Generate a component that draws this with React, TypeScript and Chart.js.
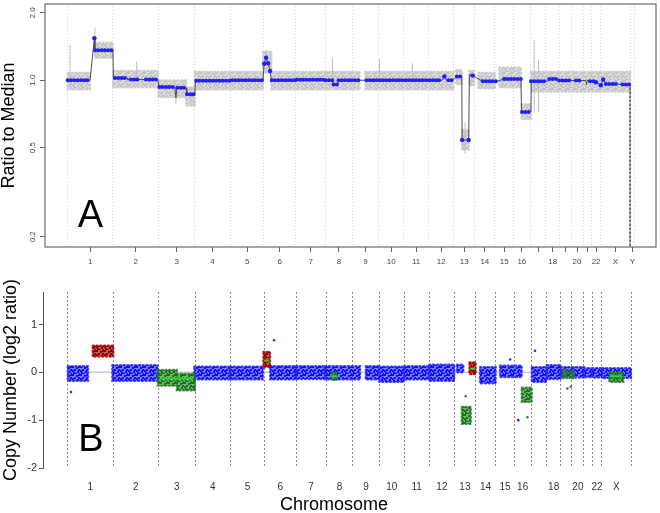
import React, { useEffect, useRef } from 'react';
import { Chart, registerables } from 'chart.js';

Chart.register(...registerables);

const FONT = '"Liberation Sans", Arial, Helvetica, sans-serif';

// ---------- genome layout ----------
const CHROMOSOMES = ['1','2','3','4','5','6','7','8','9','10','11','12','13','14','15','16','17','18','19','20','21','22','X','Y'];
const CHROM_LENGTH_MB = [249, 251, 200, 196, 185, 175, 165, 147, 146, 136, 139, 138, 115, 112, 102, 92, 86, 77, 62, 66, 46, 52, 161, 25];
const TICK_LABELS_A = ['1','2','3','4','5','6','7','8','9','10','11','12','13','14','15','16','','18','','20','','22','X','Y'];
const TICK_LABELS_B = ['1','2','3','4','5','6','7','8','9','10','11','12','13','14','15','16','','18','','20','','22','X',''];
const Y_TICKS_A = [0.2, 0.5, 1.0, 2.0];
const Y_TICKS_B = [-2, -1, 0, 1];
const X_RANGE_A = [-125, 3241];
const X_RANGE_B = [-136, 3241];
const Y_RANGE_A = [0.18, 2.19];
const Y_RANGE_B = [-2, 1.68];

// ---------- Panel A: ratio to median (genome position Mb, ratio) ----------
const SEGMENT_PATH_A: [number, number][] = [
  [0, 1.0], [123, 1.0], [147, 1.54], [150, 1.36], [249, 1.36],
  [252, 1.024], [328, 1.024], [331, 1.007], [497, 1.007],
  [503, 0.934], [590, 0.934], [596, 0.835], [602, 0.925], [652, 0.925], [656, 0.865], [700, 0.865],
  [704, 0.995], [904, 0.995], [906, 1.0], [1076, 1.0],
  [1082, 1.185], [1093, 1.26], [1104, 1.19], [1115, 1.10], [1122, 1.0], [1256, 1.0],
  [1261, 1.005], [1421, 1.005], [1424, 1.0], [1460, 1.0], [1464, 0.957], [1487, 0.957], [1491, 1.0], [1608, 1.0],
  [1646, 1.0], [2064, 1.0], [2075, 1.04], [2086, 1.0], [2119, 1.0],
  [2144, 1.04], [2171, 1.04], [2173, 0.541], [2209, 0.541], [2213, 1.06], [2231, 1.049],
  [2286, 0.99], [2367, 0.99], [2405, 1.013], [2497, 1.013], [2500, 0.722], [2552, 0.722],
  [2554, 0.99], [2643, 0.99], [2653, 1.013], [2697, 1.013], [2708, 0.997], [2834, 0.997],
  [2855, 0.997], [2858, 0.957], [2862, 0.997], [2877, 1.0], [2897, 0.99], [2910, 0.98],
  [2937, 0.95], [2950, 1.007], [2965, 0.963], [3020, 0.963], [3056, 0.957], [3098, 0.957], [3098, 0.03],
];
const BLUE_RUNS_A: [number, number, number][] = [
  [0, 123, 1.0], [150, 249, 1.36], [260, 321, 1.024], [348, 387, 1.007], [431, 497, 1.007],
  [505, 579, 0.934], [604, 652, 0.925], [657, 700, 0.865], [708, 904, 0.995], [906, 1074, 1.0],
  [1124, 1256, 1.0], [1261, 1421, 1.005], [1421, 1459, 1.0], [1465, 1487, 0.957], [1492, 1608, 1.0],
  [1646, 1707, 1.0], [1718, 2064, 1.0], [2097, 2119, 1.0], [2144, 2171, 1.04],
  [2286, 2367, 0.99], [2405, 2497, 1.013], [2503, 2552, 0.722], [2552, 2643, 0.99],
  [2653, 2697, 1.013], [2708, 2772, 0.997], [2800, 2834, 0.997], [2877, 2897, 0.99],
  [2965, 3020, 0.963], [3056, 3097, 0.957],
];
const BLUE_POINTS_A: [number, number][] = [
  [147, 1.54], [1082, 1.185], [1093, 1.26], [1104, 1.19], [1115, 1.10], [2075, 1.04],
  [2173, 0.541], [2209, 0.541], [2231, 1.049], [2937, 0.95], [2950, 1.007], [2910, 0.98],
];
// [start, end, low, high]
const GRAY_CLOUD_A: [number, number, number, number][] = [
  [0, 123, 0.91, 1.08], [150, 249, 1.26, 1.47], [249, 497, 0.93, 1.10],
  [500, 652, 0.84, 1.0], [652, 700, 0.77, 0.93], [700, 1076, 0.91, 1.09],
  [1076, 1122, 1.08, 1.34], [1122, 1421, 0.91, 1.09], [1421, 1608, 0.91, 1.09],
  [1640, 2126, 0.91, 1.09], [2140, 2172, 0.96, 1.11], [2172, 2210, 0.49, 0.60],
  [2213, 2240, 0.95, 1.10], [2262, 2354, 0.92, 1.08], [2378, 2497, 0.93, 1.14],
  [2500, 2552, 0.67, 0.78], [2552, 3098, 0.89, 1.09],
];
// [position, low, high]
const GRAY_WHISKERS_A: [number, number, number][] = [
  [13, 0.93, 1.44], [150, 1.3, 1.72], [380, 1.0, 1.21], [596, 0.78, 0.95], [1093, 1.2, 1.37],
  [1459, 1.0, 1.26], [1718, 1.0, 1.25], [1899, 1.0, 1.19], [2189, 0.47, 0.647],
  [2570, 0.72, 1.51], [2594, 0.72, 1.23],
];

// ---------- Panel B: copy number log2 ratio ----------
const BLUE_CLOUD_B: [number, number, number, number][] = [
  [0, 112, -0.18, 0.13], [245, 495, -0.18, 0.15], [696, 893, -0.15, 0.12], [893, 1074, -0.15, 0.12],
  [1113, 1256, -0.15, 0.13], [1256, 1415, -0.14, 0.13], [1415, 1608, -0.15, 0.13],
  [1639, 1714, -0.15, 0.13], [1714, 1850, -0.2, 0.12], [1850, 1988, -0.15, 0.13],
  [1988, 2126, -0.18, 0.16], [2140, 2176, 0.0, 0.16], [2267, 2354, -0.23, 0.11],
  [2378, 2497, -0.1, 0.14], [2552, 2634, -0.2, 0.11], [2634, 2711, -0.14, 0.15],
  [2711, 2774, -0.1, 0.11], [2774, 2840, -0.11, 0.11], [2840, 2885, -0.1, 0.09],
  [2885, 2940, -0.11, 0.09], [2940, 3098, -0.12, 0.09],
];
const RED_CLOUD_B: [number, number, number, number][] = [
  [137, 251, 0.33, 0.56], [1076, 1113, 0.11, 0.43], [2209, 2244, -0.04, 0.21],
];
const GREEN_CLOUD_B: [number, number, number, number][] = [
  [495, 600, -0.28, 0.05], [600, 700, -0.38, -0.03], [1452, 1480, -0.16, 0.0],
  [2167, 2217, -1.08, -0.72], [2497, 2552, -0.62, -0.32], [2722, 2747, -0.12, 0.04],
  [2760, 2783, -0.12, 0.02], [2979, 3056, -0.2, 0.0],
];
const SEGMENT_LINES_B: [number, number, number][] = [
  [508, 690, -0.13], [1081, 1109, 0.25], [1452, 1480, -0.08], [2213, 2241, 0.08], [2983, 3047, -0.08],
];
const BLUE_OUTLIERS_B: [number, number][] = [[18, -0.41], [1135, 0.67], [2433, 0.27], [2478, -1.0], [2570, 0.45]];
const GREEN_OUTLIERS_B: [number, number][] = [[2189, -0.5], [2528, -0.94], [2748, -0.34], [2766, -0.3]];
const ZERO_LINE_B: [number, number, number] = [0, 3098, 0];

// ---------- helpers ----------
const CHROM_START = CHROM_LENGTH_MB.map((_, i) => CHROM_LENGTH_MB.slice(0, i).reduce((a, b) => a + b, 0));
const CHROM_CENTER = CHROM_START.map((s, i) => s + CHROM_LENGTH_MB[i] / 2);
const CHROM_BOUNDS = [...CHROM_START, CHROM_START[CHROM_START.length - 1] + CHROM_LENGTH_MB[CHROM_LENGTH_MB.length - 1]];

type P = { x: number; y: number | null };
const polygons = (bands: [number, number, number, number][]): P[] =>
  bands.flatMap(([x0, x1, lo, hi]) => [
    { x: x0, y: hi }, { x: x1, y: hi }, { x: x1, y: lo }, { x: x0, y: lo }, { x: x0, y: hi }, { x: x0, y: null },
  ]);
const runs = (rs: [number, number, number][]): P[] =>
  rs.flatMap(([x0, x1, v]) => [{ x: x0, y: v }, { x: x1, y: v }, { x: x1, y: null }]);
const whiskers = (ws: [number, number, number][]): P[] =>
  ws.flatMap(([x, lo, hi]) => [{ x, y: lo }, { x, y: hi }, { x, y: null }]);
const pts = (ps: [number, number][]): P[] => ps.map(([x, y]) => ({ x, y }));

const zeroPad = (s: any) => { s.paddingTop = 0; s.paddingBottom = 0; s.paddingLeft = 0; s.paddingRight = 0; };

// speckle texture (style only): fixed dot layout within a small tile
const SPECKLE_TILE = [[0, 0], [4, 1], [2, 3], [6, 3], [1, 6], [5, 5], [3, 7], [7, 7], [0, 4], [6, 0]];
function speckle(base: string, dot: string): CanvasPattern | string {
  const c = document.createElement('canvas');
  c.width = 8; c.height = 8;
  const g = c.getContext('2d');
  if (!g) return base;
  g.fillStyle = base; g.fillRect(0, 0, 8, 8);
  g.fillStyle = dot;
  SPECKLE_TILE.forEach(([x, y]) => g.fillRect(x, y, 2, 2));
  const p = g.createPattern(c, 'repeat');
  return p || base;
}

const panelPlugin = (id: string, letter: string, lx: number, ly: number, frame: boolean) => ({
  id,
  afterDraw(chart: any) {
    const { ctx, chartArea: a } = chart;
    ctx.save();
    if (frame) {
      ctx.strokeStyle = '#6b6b6b';
      ctx.lineWidth = 1.2;
      ctx.strokeRect(a.left, a.top, a.right - a.left, a.bottom - a.top);
    }
    ctx.fillStyle = '#000';
    ctx.font = `38px ${FONT}`;
    ctx.textAlign = 'center';
    ctx.textBaseline = 'alphabetic';
    ctx.fillText(letter, lx, ly);
    ctx.restore();
  },
});

const cloudStyle = (fillPattern: any, edge: string) => ({
  fill: 'shape', backgroundColor: fillPattern, borderColor: edge, borderWidth: 2.2,
  borderDash: [1.2, 2.6], borderCapStyle: 'round', pointRadius: 0,
});

export default function App() {
  const refA = useRef<HTMLCanvasElement>(null);
  const refB = useRef<HTMLCanvasElement>(null);

  useEffect(() => {
    Chart.defaults.font.family = FONT;

    const grayFill = speckle('#dedede', '#c2c2c2');
    const blueFill = speckle('rgba(70,70,255,0.72)', '#1010ff');
    const redFill = speckle('rgba(175,30,30,0.75)', '#8e0000');
    const greenFill = speckle('rgba(60,150,60,0.72)', '#1d6f1d');

    const chartA = new Chart(refA.current as HTMLCanvasElement, {
      type: 'line',
      data: {
        datasets: [
          { data: pts(BLUE_POINTS_A), showLine: false, pointRadius: 2.2, pointBorderWidth: 0, pointBackgroundColor: '#1f1fff' },
          { data: runs(BLUE_RUNS_A), borderColor: '#1f1fff', borderWidth: 4, borderDash: [0.01, 3.3], borderCapStyle: 'round', pointRadius: 0 },
          {
            data: pts(SEGMENT_PATH_A), borderColor: '#4d4d4d', borderWidth: 1, pointRadius: 0,
            segment: { borderDash: (c: any) => (c.p1.parsed.y < Y_RANGE_A[0] ? [2, 2] : undefined) },
          },
          { data: whiskers(GRAY_WHISKERS_A), borderColor: '#bdbdbd', borderWidth: 1, pointRadius: 0 },
          { data: polygons(GRAY_CLOUD_A), ...cloudStyle(grayFill, '#cdcdcd') },
        ] as any,
      },
      options: {
        responsive: false,
        animation: false,
        events: [],
        layout: { padding: { top: 2, right: 3, left: 0, bottom: 0 } },
        plugins: { legend: { display: false }, tooltip: { enabled: false } },
        scales: {
          x: {
            type: 'linear', position: 'bottom', min: X_RANGE_A[0], max: X_RANGE_A[1],
            afterBuildTicks: (s: any) => { s.ticks = CHROM_CENTER.map((v) => ({ value: v })); },
            afterFit: (s: any) => { s.height = 25; zeroPad(s); },
            ticks: {
              autoSkip: false, maxRotation: 0, minRotation: 0, padding: 5, color: '#444',
              font: { size: 8 }, callback: (_v: any, i: number) => TICK_LABELS_A[i],
            },
            grid: { drawOnChartArea: false, drawTicks: true, tickLength: 5, color: '#666' },
            border: { display: false },
          },
          xb: {
            type: 'linear', position: 'top', min: X_RANGE_A[0], max: X_RANGE_A[1],
            afterBuildTicks: (s: any) => { s.ticks = CHROM_BOUNDS.map((v) => ({ value: v })); },
            afterFit: (s: any) => { s.height = 0; zeroPad(s); },
            ticks: { display: false },
            grid: { drawTicks: false, color: '#d6d6d6', lineWidth: 1 },
            border: { display: false, dash: [1, 2] },
          },
          y: {
            type: 'logarithmic', min: Y_RANGE_A[0], max: Y_RANGE_A[1],
            afterBuildTicks: (s: any) => { s.ticks = Y_TICKS_A.map((v) => ({ value: v })); },
            afterFit: (s: any) => { s.width = 45; zeroPad(s); },
            ticks: {
              minRotation: 90, maxRotation: 90, crossAlign: 'center', padding: 2, color: '#444',
              font: { size: 8 }, callback: (v: any) => Number(v).toFixed(1),
            },
            grid: { drawOnChartArea: false, tickLength: 5, color: '#666' },
            border: { display: false },
            title: { display: true, text: 'Ratio to Median', color: '#000', font: { size: 18 }, padding: { top: -2, bottom: 0 } },
          },
        },
      } as any,
      plugins: [panelPlugin('panelA', 'A', 90.5, 227, true)],
    });

    const chartB = new Chart(refB.current as HTMLCanvasElement, {
      type: 'line',
      data: {
        datasets: [
          { data: runs(SEGMENT_LINES_B), borderColor: '#22e022', borderWidth: 2, pointRadius: 0 },
          { data: pts(BLUE_OUTLIERS_B), showLine: false, pointRadius: 1.3, pointBorderWidth: 0, pointBackgroundColor: '#2a2aff' },
          { data: pts(GREEN_OUTLIERS_B), showLine: false, pointRadius: 1.3, pointBorderWidth: 0, pointBackgroundColor: '#2b8a2b' },
          { data: polygons(RED_CLOUD_B), ...cloudStyle(redFill, 'rgba(160,0,0,0.8)') },
          { data: polygons(GREEN_CLOUD_B), ...cloudStyle(greenFill, 'rgba(30,120,30,0.8)') },
          { data: polygons(BLUE_CLOUD_B), ...cloudStyle(blueFill, 'rgba(30,30,255,0.8)') },
          { data: runs([ZERO_LINE_B]), borderColor: '#c8c8c8', borderWidth: 1.5, pointRadius: 0 },
        ] as any,
      },
      options: {
        responsive: false,
        animation: false,
        events: [],
        layout: { padding: { top: 22, right: 11, left: 11, bottom: 0 } },
        plugins: {
          legend: { display: false },
          tooltip: { enabled: false },
          title: { display: true, position: 'bottom', text: 'Chromosome', color: '#000', font: { size: 18, weight: 'normal' }, padding: 0 },
        },
        scales: {
          x: {
            type: 'linear', position: 'bottom', min: X_RANGE_B[0], max: X_RANGE_B[1],
            afterBuildTicks: (s: any) => { s.ticks = CHROM_CENTER.map((v) => ({ value: v })); },
            afterFit: (s: any) => { s.height = 26.4; zeroPad(s); },
            ticks: {
              autoSkip: false, maxRotation: 0, minRotation: 0, padding: 13, color: '#333',
              font: { size: 10 }, callback: (_v: any, i: number) => TICK_LABELS_B[i],
            },
            grid: { display: false, drawTicks: false },
            border: { display: false },
          },
          xb: {
            type: 'linear', position: 'top', min: X_RANGE_B[0], max: X_RANGE_B[1],
            afterBuildTicks: (s: any) => { s.ticks = CHROM_START.map((v) => ({ value: v })); },
            afterFit: (s: any) => { s.height = 0; zeroPad(s); },
            ticks: { display: false },
            grid: { drawTicks: false, color: '#8c8c8c', lineWidth: 1 },
            border: { display: false, dash: [2, 2] },
          },
          y: {
            type: 'linear', min: Y_RANGE_B[0], max: Y_RANGE_B[1],
            afterBuildTicks: (s: any) => { s.ticks = Y_TICKS_B.map((v) => ({ value: v })); },
            afterFit: (s: any) => { s.width = 32; zeroPad(s); },
            ticks: { padding: 2, color: '#333', font: { size: 11 }, callback: (v: any) => String(v) },
            grid: { drawOnChartArea: false, tickLength: 4, color: '#555' },
            border: { display: true, color: '#555', width: 1 },
            title: { display: true, text: 'Copy Number (log2 ratio)', color: '#000', font: { size: 18 }, padding: { top: -11, bottom: 0 } },
          },
        },
      } as any,
      plugins: [panelPlugin('panelB', 'B', 91, 181, false)],
    });

    return () => { chartA.destroy(); chartB.destroy(); };
  }, []);

  return (
    <div style={{ position: 'fixed', left: 0, top: 0, width: 660, height: 513, background: '#fff', overflow: 'hidden' }}>
      <canvas ref={refA} width={660} height={272} style={{ position: 'absolute', left: 0, top: 0 }} />
      <canvas ref={refB} width={668} height={246} style={{ position: 'absolute', left: 0, top: 270 }} />
    </div>
  );
}
